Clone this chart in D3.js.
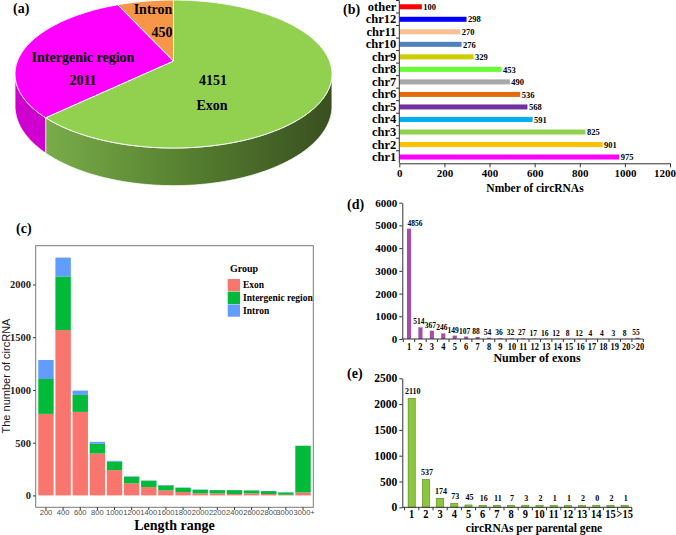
<!DOCTYPE html>
<html><head><meta charset="utf-8">
<script src="https://cdn.jsdelivr.net/npm/d3@7"></script>
<style>
body{margin:0;background:#fff}
svg{display:block}
</style>
</head><body>
<svg id="fig" width="676" height="535"></svg>
<script>
// ---------- DATA ----------
// (a) genomic origin
const pieLabels = ["Exon", "Intergenic region", "Intron"];
const pieValues = [4151, 2011, 450];
// (b) chromosome distribution
const chrCategories = ["other","chr12","chr11","chr10","chr9","chr8","chr7","chr6","chr5","chr4","chr3","chr2","chr1"];
const chrValues = [100, 298, 270, 276, 329, 453, 490, 536, 568, 591, 825, 901, 975];
const chrTicks = [0, 200, 400, 600, 800, 1000, 1200];
// (c) length distribution
const lengthCategories = ["200","400","600","800","1000","1200","1400","1600","1800","2000","2200","2400","2600","2800","3000","3000+"];
const exonCounts = [773, 1568, 792, 397, 240, 114, 79, 47, 32, 19, 19, 13, 19, 13, 6, 28];
const intergenicCounts = [331, 508, 161, 92, 79, 63, 60, 48, 41, 35, 31, 37, 28, 28, 22, 442];
const intronCounts = [180, 179, 41, 19, 9, 4, 3, 4, 2, 2, 1, 1, 1, 1, 1, 2];
const groupNames = ["Exon", "Intergenic region", "Intron"];
const lengthTicks = [0, 500, 1000, 1500, 2000];
// (d) number of exons
const exonNumCategories = ["1","2","3","4","5","6","7","8","9","10","11","12","13","14","15","16","17","18","19","20",">20"];
const exonNumValues = [4856, 514, 367, 246, 149, 107, 88, 54, 36, 32, 27, 17, 16, 12, 8, 12, 4, 4, 3, 8, 55];
const exonNumTicks = [0, 1000, 2000, 3000, 4000, 5000, 6000];
// (e) circRNAs per parental gene
const geneCategories = ["1","2","3","4","5","6","7","8","9","10","11","12","13","14","15",">15"];
const geneValues = [2110, 537, 174, 73, 45, 16, 11, 7, 3, 2, 1, 1, 2, 0, 2, 1];
const geneTicks = [0, 500, 1000, 1500, 2000, 2500];

// ---------- STYLE ----------
const SERIF = '"Liberation Serif","Times New Roman",serif';
const SANS = '"Liberation Sans",Arial,sans-serif';
const fmt = d3.format("d");
const svg = d3.select("#fig");
const defs = svg.append("defs");

function label(txt, x, y, size, anchor, opts = {}) {
  return svg.append("text").attr("x", x).attr("y", y)
    .attr("font-family", opts.family || SERIF)
    .attr("font-weight", opts.weight || "bold")
    .attr("font-size", size).attr("text-anchor", anchor || "start")
    .attr("fill", opts.fill || "#000").text(txt);
}
function styleAxis(g, size, family, weight, fill) {
  g.selectAll("text").attr("font-family", family).attr("font-weight", weight)
    .attr("font-size", size).attr("fill", fill || "#000");
  g.selectAll("line").attr("stroke", "#333");
  g.selectAll(".domain").attr("stroke", "#333");
}
// condensed category labels under a band axis
function bandLabels(scale, cats, y, size, sx) {
  svg.append("g").selectAll("text").data(cats).join("text")
    .attr("transform", d => `translate(${scale(d) + scale.bandwidth() / 2},${y}) scale(${sx},1)`)
    .attr("text-anchor", "middle").attr("font-family", SERIF).attr("font-weight", "bold")
    .attr("font-size", size).text(d => d);
}

// ---------- (a) 3D PIE ----------
const P = {cx: 173.5, cy: 61, rx: 156, ry: 71.7, k: 0.176, h: 31};
function proj(t, down) {
  const w = 1 + P.k * Math.cos(t);
  return [P.cx + P.rx * Math.sin(t) / w, P.cy - P.ry * Math.cos(t) / w + (down ? P.h / w : 0)];
}
function samples(a0, a1) {
  const n = Math.max(2, Math.ceil((a1 - a0) / 0.01));
  return d3.range(n + 1).map(i => a0 + (a1 - a0) * i / n);
}
const sg = defs.append("linearGradient").attr("id", "exonSide")
  .attr("gradientUnits", "userSpaceOnUse").attr("x1", 45).attr("x2", 332).attr("y1", 0).attr("y2", 0);
sg.append("stop").attr("offset", "0%").attr("stop-color", "#7aac4a");
sg.append("stop").attr("offset", "50%").attr("stop-color", "#557f2f");
sg.append("stop").attr("offset", "100%").attr("stop-color", "#394f20");
const topCol = ["#92d050", "#ff00ff", "#f79646"];
const sideCol = ["url(#exonSide)", "#cf00cf", "#c0702a"];
const arcs = d3.pie().sort(null).value(d => d)(pieValues);
const gA = svg.append("g");
const front0 = Math.acos(-P.k), front1 = 2 * Math.PI - front0;
arcs.forEach((d, i) => {
  const s0 = Math.max(d.startAngle, front0), s1 = Math.min(d.endAngle, front1);
  if (s1 > s0) {
    const ts = samples(s0, s1);
    const pts = ts.map(t => proj(t, false)).concat(ts.slice().reverse().map(t => proj(t, true)));
    gA.append("path").attr("d", d3.line()(pts) + "Z").attr("fill", sideCol[i])
      .attr("stroke", "#fff").attr("stroke-width", 0.8);
  }
});
arcs.forEach((d, i) => {
  const ts = samples(d.startAngle, d.endAngle);
  const pts = [[P.cx, P.cy]].concat(ts.map(t => proj(t, false)));
  gA.append("path").attr("d", d3.line()(pts) + "Z").attr("fill", topCol[i])
    .attr("stroke", "#fff").attr("stroke-width", 1);
});
label("(a)", 13, 13, 14);
label(String(pieValues[0]), 213, 85, 14, "middle");
label(pieLabels[0], 212, 110, 14, "middle");
label(pieLabels[1], 83, 62, 14, "middle");
label(String(pieValues[1]), 83, 85, 14, "middle");
label(pieLabels[2], 153, 14, 14, "middle");
label(String(pieValues[2]), 162, 37, 14, "middle");

// ---------- (b) HORIZONTAL BARS ----------
const chrColors = ["#ff0000","#0000ff","#fac090","#4f81bd","#cccc00","#66ff33","#a6a6a6","#e46c0a","#7030a0","#00b0f0","#92d050","#ffc000","#ff00ff"];
const xB = d3.scaleLinear().domain([0, 1200]).range([399.3, 670]);
const yB = d3.scaleBand().domain(chrCategories).range([0.5, 163.3]).paddingInner(0.6).paddingOuter(0.3);
const gB = svg.append("g");
gB.selectAll("rect").data(chrValues).join("rect")
  .attr("x", xB(0)).attr("y", (d, i) => yB(chrCategories[i]))
  .attr("width", d => xB(d) - xB(0)).attr("height", yB.bandwidth())
  .attr("fill", (d, i) => chrColors[i]);
gB.selectAll("text.v").data(chrValues).join("text").attr("class", "v")
  .attr("x", d => xB(d) + 1.5).attr("y", (d, i) => yB(chrCategories[i]) + yB.bandwidth() / 2 + 3.2)
  .attr("font-family", SERIF).attr("font-weight", "bold").attr("font-size", 8.5).text(d => d);
const axBx = svg.append("g").attr("transform", "translate(0,163.3)")
  .call(d3.axisBottom(xB).tickValues(chrTicks).tickFormat(fmt).tickSize(4).tickSizeOuter(0).tickPadding(2));
styleAxis(axBx, 11, SERIF, "bold");
axBx.selectAll(".tick text").filter(d => d === 1200).attr("text-anchor", "end").attr("x", 5.5);
const axBy = svg.append("g").attr("transform", "translate(399.3,0)")
  .call(d3.axisLeft(yB).tickSize(0).tickPadding(3));
styleAxis(axBy, 12.5, SERIF, "bold");
axBy.select(".domain").remove();
svg.append("line").attr("x1", 399.3).attr("x2", 399.3).attr("y1", 0.5).attr("y2", 163.3).attr("stroke", "#333");
svg.append("g").selectAll("line").data(d3.range(chrCategories.length)).join("line")
  .attr("x1", 396).attr("x2", 399.3)
  .attr("y1", i => yB(chrCategories[i]) - yB.step() * 0.3).attr("y2", i => yB(chrCategories[i]) - yB.step() * 0.3)
  .attr("stroke", "#333");
label("Nmber of circRNAs", 535, 191.5, 11.5, "middle");
label("(b)", 343, 13.5, 14);

// ---------- (c) STACKED BARS ----------
const cColors = ["#F8766D", "#00BA38", "#619CFF"];
const tableC = lengthCategories.map((c, i) => ({cat: c, "Exon": exonCounts[i], "Intergenic region": intergenicCounts[i], "Intron": intronCounts[i]}));
const stackC = d3.stack().keys(groupNames)(tableC);
const maxC = d3.max(tableC, d => d.Exon + d["Intergenic region"] + d.Intron);
const xC = d3.scaleBand().domain(lengthCategories).range([35.7, 313.3]).paddingInner(0.1).paddingOuter(0.15);
const yC = d3.scaleLinear().domain([-0.05 * maxC, 1.05 * maxC]).range([507.3, 245.7]);
const gC = svg.append("g");
stackC.forEach((layer, li) => {
  gC.append("g").selectAll("rect").data(layer).join("rect")
    .attr("x", d => xC(d.data.cat)).attr("width", xC.bandwidth())
    .attr("y", d => yC(d[1])).attr("height", d => yC(d[0]) - yC(d[1]))
    .attr("fill", cColors[li]);
});
svg.append("rect").attr("x", 35.7).attr("y", 245.7).attr("width", 277.6).attr("height", 261.6)
  .attr("fill", "none").attr("stroke", "#7a7a7a").attr("stroke-width", 1);
const axCy = svg.append("g").attr("transform", "translate(35.7,0)")
  .call(d3.axisLeft(yC).tickValues(lengthTicks).tickFormat(fmt).tickSize(2.7).tickSizeOuter(0).tickPadding(2));
axCy.select(".domain").remove();
styleAxis(axCy, 10.5, SERIF, "bold", "#222");
const axCx = svg.append("g").attr("transform", "translate(0,507.3)")
  .call(d3.axisBottom(xC).tickSize(2.7).tickSizeOuter(0).tickPadding(0));
axCx.select(".domain").remove();
styleAxis(axCx, 7.6, SANS, "normal", "#4d4d4d");
const nC = lengthCategories.length;
axCx.selectAll(".tick text").attr("dx", (d, i) => i === nC - 2 ? -1.1 : (i === nC - 1 ? 1.1 : 0));
svg.append("text").attr("transform", "translate(10,376) rotate(-90)")
  .attr("text-anchor", "middle").attr("font-family", SANS).attr("font-size", 11).attr("fill", "#1a1a1a")
  .text("The number of circRNA");
label("Length range", 174.5, 530, 14, "middle");
label("(c)", 16, 233, 14);
// legend
label("Group", 230, 272, 10, "start");
groupNames.forEach((g, i) => {
  svg.append("rect").attr("x", 227.7).attr("y", 279 + i * 12.7).attr("width", 12.3).attr("height", 12.3)
    .attr("fill", cColors[i]);
  label(g, 243, 279 + i * 12.7 + 9.2, 9.5, "start");
});

// ---------- (d) NUMBER OF EXONS ----------
const xD = d3.scaleBand().domain(exonNumCategories).range([403.3, 403.3 + 21 * 11.43]).paddingInner(0.64).paddingOuter(0.32);
const yD = d3.scaleLinear().domain([0, 6000]).range([339, 202.7]);
const gD = svg.append("g");
gD.selectAll("rect").data(exonNumValues).join("rect")
  .attr("x", (d, i) => xD(exonNumCategories[i])).attr("width", xD.bandwidth())
  .attr("y", d => yD(d)).attr("height", d => yD(0) - yD(d)).attr("fill", "#a64ca6");
gD.selectAll("text").data(exonNumValues).join("text")
  .attr("x", (d, i) => xD(exonNumCategories[i]) + xD.bandwidth() / 2 + (i === 0 ? 6 : -1.5))
  .attr("y", d => yD(d) - 3).attr("text-anchor", "middle")
  .attr("font-family", SERIF).attr("font-weight", "bold").attr("font-size", 7.5).text(d => d);
const axDy = svg.append("g").attr("transform", "translate(402.3,0)")
  .call(d3.axisLeft(yD).tickValues(exonNumTicks).tickFormat(fmt).tickSize(3).tickSizeOuter(0).tickPadding(2));
styleAxis(axDy, 11, SERIF, "bold");
svg.append("line").attr("x1", 402.3).attr("x2", xD.range()[1]).attr("y1", 339).attr("y2", 339).attr("stroke", "#333");
svg.append("g").selectAll("line").data(d3.range(exonNumCategories.length + 1)).join("line")
  .attr("x1", i => xD.range()[0] + i * xD.step()).attr("x2", i => xD.range()[0] + i * xD.step())
  .attr("y1", 339).attr("y2", 342).attr("stroke", "#333");
bandLabels(xD, exonNumCategories, 349.5, 10.5, 0.8);
label("Number of exons", 537, 362, 12, "middle");
label("(d)", 347, 208.5, 14);

// ---------- (e) CIRCRNAS PER PARENTAL GENE ----------
const xE = d3.scaleBand().domain(geneCategories).range([404.6, 404.6 + 16 * 14.2]).paddingInner(0.5).paddingOuter(0.25);
const yE = d3.scaleLinear().domain([0, 2500]).range([507.3, 378.3]);
const gE = svg.append("g");
gE.selectAll("rect").data(geneValues).join("rect")
  .attr("x", (d, i) => xE(geneCategories[i])).attr("width", xE.bandwidth())
  .attr("y", d => Math.min(yE(d), yE(0) - 2)).attr("height", d => Math.max(yE(0) - yE(d), 2))
  .attr("fill", "#8cc63f").attr("stroke", "#5e8f25").attr("stroke-width", 0.7);
gE.selectAll("text").data(geneValues).join("text")
  .attr("x", (d, i) => xE(geneCategories[i]) + xE.bandwidth() / 2 + 1)
  .attr("y", d => Math.min(yE(d), yE(0) - 2) - 4.5).attr("text-anchor", "middle")
  .attr("font-family", SERIF).attr("font-weight", "bold").attr("font-size", 8).text(d => d);
const axEy = svg.append("g").attr("transform", "translate(402.3,0)")
  .call(d3.axisLeft(yE).tickValues(geneTicks).tickFormat(fmt).tickSize(3).tickSizeOuter(0).tickPadding(2));
styleAxis(axEy, 11.5, SERIF, "bold");
svg.append("line").attr("x1", 402.3).attr("x2", xE.range()[1]).attr("y1", 507.3).attr("y2", 507.3).attr("stroke", "#333");
svg.append("g").selectAll("line").data(d3.range(geneCategories.length + 1)).join("line")
  .attr("x1", i => xE.range()[0] + i * xE.step()).attr("x2", i => xE.range()[0] + i * xE.step())
  .attr("y1", 507.3).attr("y2", 510.3).attr("stroke", "#333");
bandLabels(xE, geneCategories, 518, 13, 0.8);
label("circRNAs per parental gene", 534, 531.5, 11.5, "middle");
label("(e)", 347, 378, 14);
</script>
</body></html>
